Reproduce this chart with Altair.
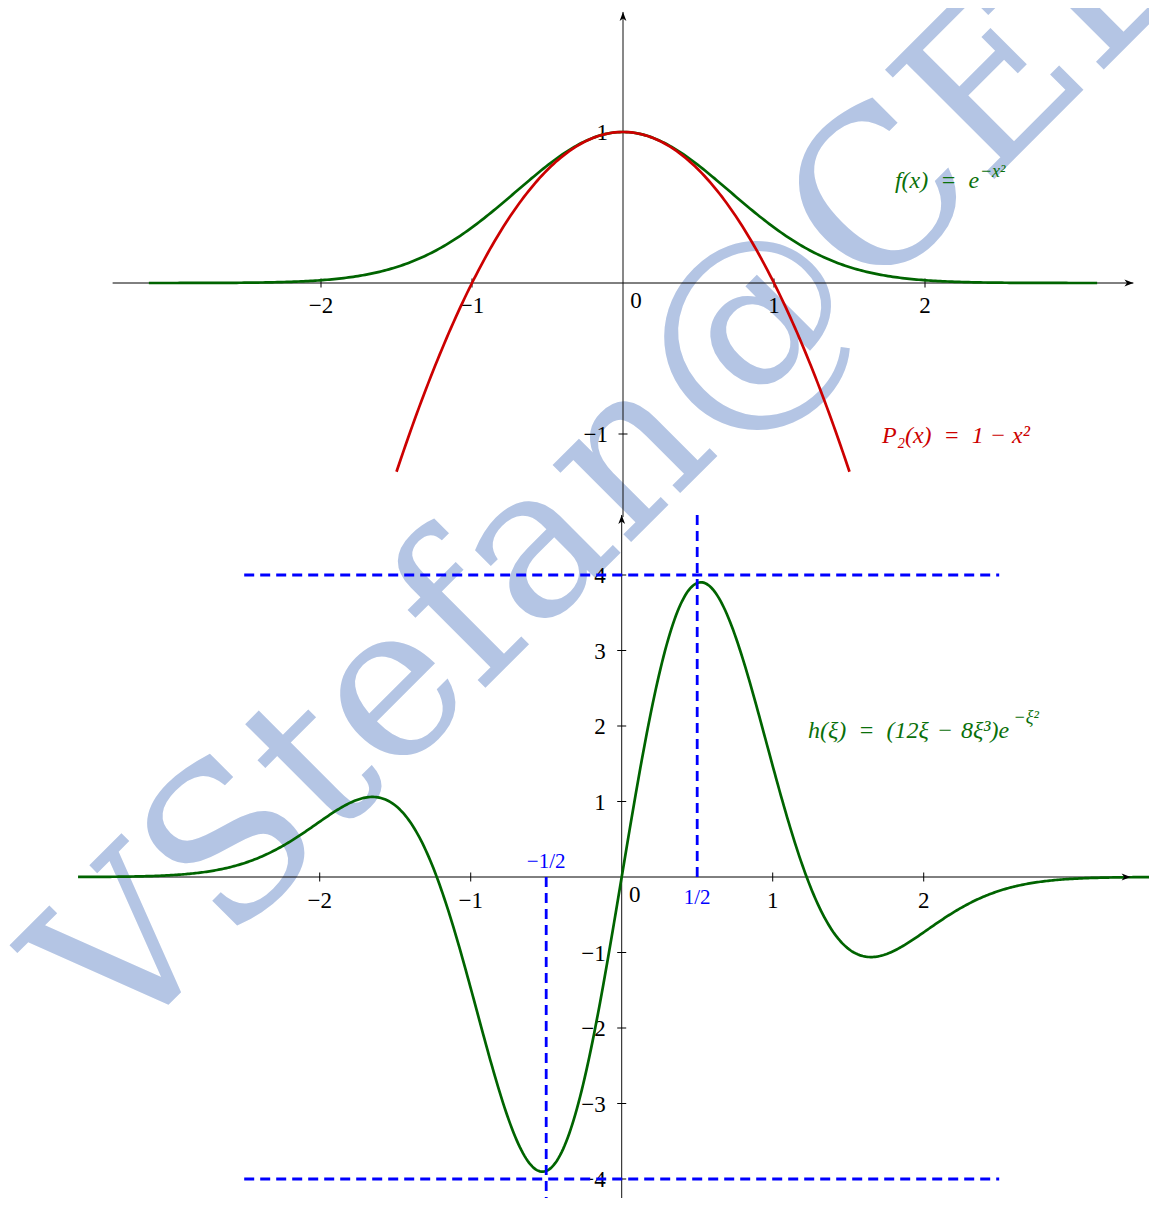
import numpy as np
import pandas as pd
import altair as alt

# ------------------------------------------------------------------ data
# The three curves are the functions named in the chart's own labels,
# sampled over the x-ranges on which they are drawn in the picture.
F_RANGE = [-3.14, 3.14]          # f(x) = e^{-x^2}
P_RANGE = [-1.5, 1.5]            # P2(x) = 1 - x^2
H_RANGE = [-3.6, 3.55]           # h(xi) = (12xi - 8xi^3) e^{-xi^2}
f_x = np.linspace(F_RANGE[0], F_RANGE[1], 400)
f_y = np.exp(-f_x ** 2)
p_x = np.linspace(P_RANGE[0], P_RANGE[1], 200)
p_y = 1 - p_x ** 2
h_x = np.linspace(H_RANGE[0], H_RANGE[1], 700)
h_y = (12 * h_x - 8 * h_x ** 3) * np.exp(-h_x ** 2)

# axes extents (data units) and ticks
top_axis_x = [-3.38, 3.38]
top_axis_y = [-1.55, 1.795]
bot_axis_x = [-3.6, 3.37]
bot_axis_y = [-4.6, 4.795]

top_xticks = [-2, -1, 1, 2]
top_xtick_labels = ["\u22122", "\u22121", "1", "2"]
top_yticks = [1, -1]
top_ytick_labels = ["1", "\u22121"]
bot_xticks = [-2, -1, 1, 2]
bot_xtick_labels = ["\u22122", "\u22121", "1", "2"]
bot_yticks = [4, 3, 2, 1, -1, -2, -3, -4]
bot_ytick_labels = ["4", "3", "2", "1", "\u22121", "\u22122", "\u22123", "\u22124"]

# blue dashed guides
hguide_y = [4, -4]
hguide_x = [-2.5, 2.5]
vguide_x = [0.5, -0.5]
vguide_y0 = [0, 0]
vguide_y1 = [4.8, -4.6]
vguide_labels = ["1/2", "\u22121/2"]

# curve labels
EN = "\u2002"
f_label = "f(x)" + EN + "=" + EN + "e"
f_exp = "\u2212x\u00b2"
p_label = "P\u2082(x)" + EN + "=" + EN + "1 \u2212 x\u00b2"
h_label = "h(\u03be)" + EN + "=" + EN + "(12\u03be\u2004\u2212\u20048\u03be\u00b3)e"
h_exp = "\u2212\u03be\u00b2"

# ------------------------------------------------------------------ layout
W, H = 1141, 1190
PX_UNIT = 151.0          # px per unit (x both panels, y top panel)
PY_BOT = 75.5            # px per unit (y bottom panel)
TOP_OX, TOP_OY = 615.0, 275.0
BOT_OX, BOT_OY = 613.7, 869.0
TOP_XDOM = [-TOP_OX / PX_UNIT, (W - TOP_OX) / PX_UNIT]
TOP_YDOM = [(TOP_OY - H) / PX_UNIT, TOP_OY / PX_UNIT]
BOT_XDOM = [-BOT_OX / PX_UNIT, (W - BOT_OX) / PX_UNIT]
BOT_YDOM = [(BOT_OY - H) / PY_BOT, BOT_OY / PY_BOT]

SERIF = "'Liberation Serif', 'Times New Roman', Tinos, 'Nimbus Roman', serif"
GREEN = "#006400"
GREEN_TXT = "#0a700a"
RED = "#cc0000"
BLUE = "#0000ff"
WM = "#b4c5e4"
ARROW_R = "M0,0L-1,-0.38L-0.72,0L-1,0.38Z"
ARROW_U = "M0,0L-0.38,1L0,0.72L0.38,1Z"


def enc(xdom, ydom):
    def ex(f):
        return alt.X(f, type="quantitative", scale=alt.Scale(domain=xdom, nice=False, zero=False), axis=None)

    def ey(f):
        return alt.Y(f, type="quantitative", scale=alt.Scale(domain=ydom, nice=False, zero=False), axis=None)
    return ex, ey


def text_layer(ex, ey, x, y, t, **kw):
    return (alt.Chart(pd.DataFrame({"x": [x], "y": [y], "t": [t]}))
            .mark_text(align="left", baseline="alphabetic", **kw)
            .encode(x=ex("x"), y=ey("y"), text="t:N"))


def panel(xdom, ydom, ax_x, ax_y, xt, xtl, yt, ytl, curves, extra_before=None, extra_after=None,
          xlab_dy=30, ylab_dx=-15):
    ex, ey = enc(xdom, ydom)
    layers = []
    if extra_before:
        layers += extra_before(ex, ey)
    # axis lines
    layers.append(alt.Chart(pd.DataFrame({"x": [ax_x[0]], "x2": [ax_x[1]], "y": [0]}))
                  .mark_rule(color="#000", strokeWidth=1)
                  .encode(x=ex("x"), x2="x2:Q", y=ey("y")))
    layers.append(alt.Chart(pd.DataFrame({"x": [0], "y": [ax_y[0]], "y2": [ax_y[1]]}))
                  .mark_rule(color="#111", strokeWidth=1)
                  .encode(x=ex("x"), y=ey("y"), y2="y2:Q"))
    # ticks
    layers.append(alt.Chart(pd.DataFrame({"x": xt, "y": [0] * len(xt)}))
                  .mark_tick(orient="vertical", size=9, thickness=1, color="#000", opacity=1)
                  .encode(x=ex("x"), y=ey("y")))
    layers.append(alt.Chart(pd.DataFrame({"x": [0] * len(yt), "y": yt}))
                  .mark_tick(orient="horizontal", size=9, thickness=1, color="#000", opacity=1)
                  .encode(x=ex("x"), y=ey("y")))
    # tick labels
    layers.append(alt.Chart(pd.DataFrame({"x": xt, "y": [0] * len(xt), "t": xtl}))
                  .mark_text(font=SERIF, fontSize=23, color="#000", align="center",
                             baseline="alphabetic", dy=xlab_dy)
                  .encode(x=ex("x"), y=ey("y"), text="t:N"))
    layers.append(alt.Chart(pd.DataFrame({"x": [0], "y": [0], "t": ["0"]}))
                  .mark_text(font=SERIF, fontSize=23, color="#000", align="center",
                             baseline="alphabetic", dx=13, dy=25)
                  .encode(x=ex("x"), y=ey("y"), text="t:N"))
    layers.append(alt.Chart(pd.DataFrame({"x": [0] * len(yt), "y": yt, "t": ytl}))
                  .mark_text(font=SERIF, fontSize=23, color="#000", align="right",
                             baseline="alphabetic", dx=ylab_dx, dy=8)
                  .encode(x=ex("x"), y=ey("y"), text="t:N"))
    # curves
    for cx, cy, col in curves:
        layers.append(alt.Chart(pd.DataFrame({"x": cx, "y": cy}))
                      .mark_line(color=col, strokeWidth=2.7, clip=True)
                      .encode(x=ex("x"), y=ey("y")))
    if extra_after:
        layers += extra_after(ex, ey)
    # arrow heads
    layers.append(alt.Chart(pd.DataFrame({"x": [ax_x[1]], "y": [0]}))
                  .mark_point(shape=ARROW_R, filled=True, size=320, color="#000", opacity=1, strokeWidth=0)
                  .encode(x=ex("x"), y=ey("y")))
    layers.append(alt.Chart(pd.DataFrame({"x": [0], "y": [ax_y[1]]}))
                  .mark_point(shape=ARROW_U, filled=True, size=320, color="#000", opacity=1, strokeWidth=0)
                  .encode(x=ex("x"), y=ey("y")))
    return alt.layer(*layers)


def top_before(ex, ey):
    wm = alt.Chart(pd.DataFrame({"x": [-3.33], "y": [-5.10], "t": ["VStefan@CEL"]})).mark_text(
        font="DejaVu Serif", fontSize=212, color=WM, align="left", baseline="alphabetic", angle=315
    ).encode(x=ex("x"), y=ey("y"), text="t:N")
    return [wm]


def top_after(ex, ey):
    return [
        text_layer(ex, ey, 1.801, 0.629, f_label, font=SERIF, fontSize=24, fontStyle="italic", color=GREEN_TXT),
        text_layer(ex, ey, 2.364, 0.705, f_exp, font=SERIF, fontSize=18, fontStyle="italic", color=GREEN_TXT),
        text_layer(ex, ey, 1.715, -1.06, p_label, font=SERIF, fontSize=24, fontStyle="italic", color=RED),
    ]


def bot_after(ex, ey):
    out = []
    dash = dict(color=BLUE, strokeWidth=2.8, strokeDash=[10, 6])
    out.append(alt.Chart(pd.DataFrame({"x": [hguide_x[0]] * 2, "x2": [hguide_x[1]] * 2, "y": hguide_y}))
               .mark_rule(**dash).encode(x=ex("x"), x2="x2:Q", y=ey("y")))
    out.append(alt.Chart(pd.DataFrame({"x": vguide_x, "y": vguide_y0, "y2": vguide_y1}))
               .mark_rule(**dash).encode(x=ex("x"), y=ey("y"), y2="y2:Q"))
    out.append(alt.Chart(pd.DataFrame({"x": [vguide_x[0]], "y": [0], "t": [vguide_labels[0]]}))
               .mark_text(font=SERIF, fontSize=21, color=BLUE, align="center", baseline="alphabetic", dy=27)
               .encode(x=ex("x"), y=ey("y"), text="t:N"))
    out.append(alt.Chart(pd.DataFrame({"x": [vguide_x[1]], "y": [0], "t": [vguide_labels[1]]}))
               .mark_text(font=SERIF, fontSize=21, color=BLUE, align="center", baseline="alphabetic", dy=-9)
               .encode(x=ex("x"), y=ey("y"), text="t:N"))
    out.append(text_layer(ex, ey, 1.234, 1.841, h_label, font=SERIF, fontSize=24, fontStyle="italic",
                          color=GREEN_TXT))
    out.append(text_layer(ex, ey, 2.595, 2.04, h_exp, font=SERIF, fontSize=18, fontStyle="italic",
                          color=GREEN_TXT))
    return out


top = panel(TOP_XDOM, TOP_YDOM, top_axis_x, top_axis_y, top_xticks, top_xtick_labels,
            top_yticks, top_ytick_labels,
            [(f_x, f_y, GREEN), (p_x, p_y, RED)],
            extra_before=top_before, extra_after=top_after, xlab_dy=30, ylab_dx=-15)

bottom = panel(BOT_XDOM, BOT_YDOM, bot_axis_x, bot_axis_y, bot_xticks, bot_xtick_labels,
               bot_yticks, bot_ytick_labels,
               [(h_x, h_y, GREEN)],
               extra_after=bot_after, xlab_dy=31, ylab_dx=-16)

chart = (
    alt.layer(top, bottom)
    .resolve_scale(x="independent", y="independent")
    .properties(width=W, height=H, padding=0, background="white",
                autosize=alt.AutoSizeParams(type="none"))
    .configure_view(stroke=None)
)

chart.save("out.html", embed_options={"renderer": "svg", "actions": False})
